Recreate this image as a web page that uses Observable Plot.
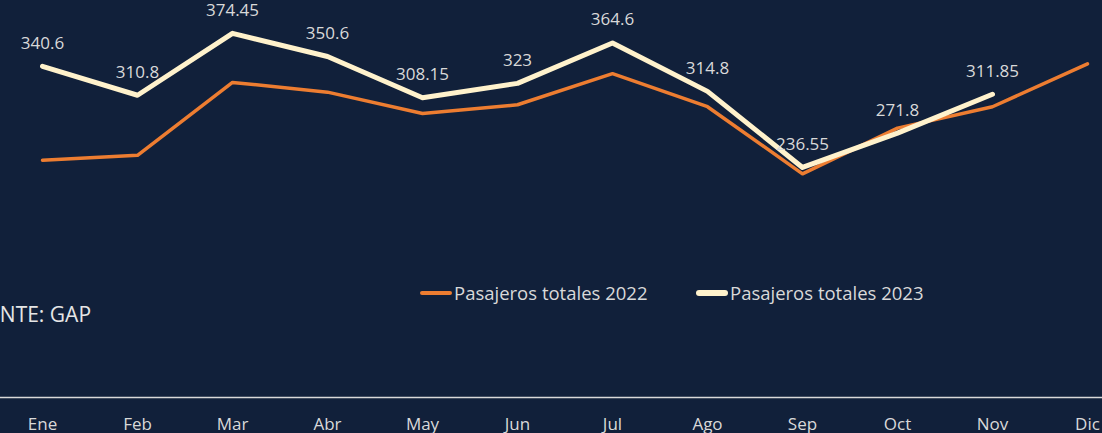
<!DOCTYPE html>
<html>
<head>
<meta charset="utf-8">
<script src="https://cdn.jsdelivr.net/npm/d3@7"></script>
<script src="https://cdn.jsdelivr.net/npm/@observablehq/plot@0.6"></script>
<style>
  html, body { margin: 0; padding: 0; background: #11203a; overflow: hidden; }
  #wrap { position: relative; width: 1102px; height: 433px; overflow: hidden; font-family: "Open Sans", Lato, sans-serif; }
  .legend { position: absolute; top: 280px; display: flex; align-items: center; color: #d9d9d9; font-size: 18.5px; white-space: nowrap; }
  .legend span.sw { display: inline-block; width: 32px; margin-right: 2px; border-radius: 3px; }
  #source { position: absolute; left: -38px; top: 300px; color: #e6e6e6; font-size: 21px; white-space: nowrap; }
</style>
</head>
<body>
<div id="wrap">
  <div id="chart"></div>
  <div id="source">FUENTE: GAP</div>
  <div class="legend" style="left:420px"><span class="sw" style="height:4px;background:#ed7d31"></span>Pasajeros totales 2022</div>
  <div class="legend" style="left:696px"><span class="sw" style="height:6px;background:#fff2cc"></span>Pasajeros totales 2023</div>
</div>
<script>
const months = ["Ene","Feb","Mar","Abr","May","Jun","Jul","Ago","Sep","Oct","Nov","Dic"];
const values2022 = [244, 249, 324, 314, 292, 301, 333, 299, 230, 277, 299, 343];
const values2023 = [340.6, 310.8, 374.45, 350.6, 308.15, 323, 364.6, 314.8, 236.55, 271.8, 311.85];

const d2022 = months.map((m, i) => ({month: m, value: values2022[i]}));
const d2023 = values2023.map((v, i) => ({month: months[i], value: v}));

const chart = Plot.plot({
  width: 1102,
  height: 433,
  marginLeft: 0,
  marginRight: 0,
  marginTop: 0,
  marginBottom: 35,
  style: {background: "#11203a", color: "#d9d9d9", fontFamily: "'Open Sans', Lato, sans-serif", fontSize: "17px"},
  x: {type: "point", domain: months, range: [42, 1087], padding: 0},
  y: {domain: [0, 400], range: [397, 8], axis: null},
  marks: [
    Plot.ruleY([0], {stroke: "#d9d9d9", strokeWidth: 1.5}),
    Plot.axisX({tickSize: 0, tickPadding: 19, label: null, fill: "#d9d9d9", fontSize: 17}),
    Plot.line(d2022, {x: "month", y: "value", stroke: "#ed7d31", strokeWidth: 3.5, strokeLinejoin: "round", strokeLinecap: "round"}),
    Plot.line(d2023, {x: "month", y: "value", stroke: "#fff2cc", strokeWidth: 5, strokeLinejoin: "round", strokeLinecap: "round"}),
    Plot.text(d2023, {x: "month", y: "value", text: d => String(d.value), dy: -23, fill: "#d9d9d9", fontSize: 17})
  ]
});
document.getElementById("chart").appendChild(chart);
</script>
</body>
</html>
